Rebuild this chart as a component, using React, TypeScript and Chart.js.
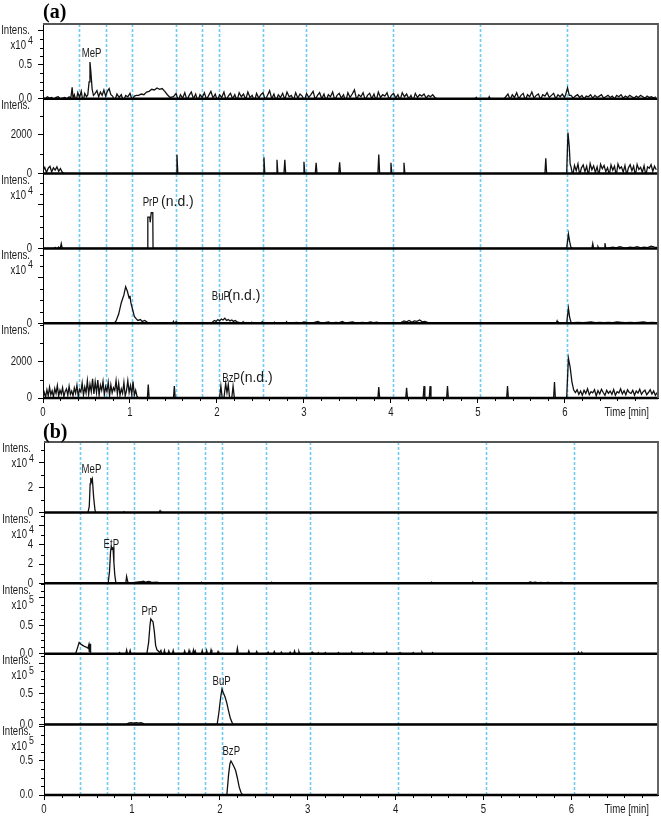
import React, { useEffect, useRef } from "react";
import { Chart, registerables } from "chart.js";

Chart.register(...registerables);

type Pt = [number, number];

const FONT = "'Liberation Sans', Arial, sans-serif";
const NARROW = 0.8;
const TEXT = "#1a1a1a";
const MARKER = "#6ccaf3";

// ---------- helpers (sampling / spike expansion) ----------
const seg = (start: number, step: number, values: number[]): Pt[] =>
  values.map((v, i) => [Math.round((start + i * step) * 1000) / 1000, v] as Pt);
const spikes = (list: Pt[]): Pt[] =>
  list.flatMap(([t, h]) => [[t - 0.01, 0], [t, h], [t + 0.01, 0]] as Pt[]);
const trace = (...parts: Pt[][]): Pt[] => parts.flat().sort((p, q) => p[0] - q[0]);

// ---------- shared axis data ----------
const timeMarkers = [0.415, 0.72, 1.02, 1.53, 1.83, 2.02, 2.53, 3.025, 4.025, 5.025, 6.025];
const timeTicks = [0, 1, 2, 3, 4, 5, 6];

// ---------- (a) panel 1 : MeP (x10^4) ----------
const a1Noise1 = seg(0, 0.025, [0.02, 0.0, 0.03, 0.01, 0.02, -0.01, 0.02, 0.03, 0.0, 0.01, 0.02, 0.0, 0.03]);
const a1Points: Pt[] = [
  [0.32, 0.01], [0.335, 0.17], [0.345, 0.01],
  [0.5, 0.03], [0.515, 0.06], [0.53, 0.25], [0.54, 0.54], [0.55, 0.4], [0.565, 0.14], [0.58, 0.05],
  [1.5, 0.03],
  [4.53, 0], [4.97, 0], [4.98, 0.02], [4.99, 0], [5.12, 0], [5.13, 0.03], [5.14, 0], [5.3, 0],
  [6.008, 0.06], [6.03, 0.16], [6.05, 0.05],
];
const a1Noise2 = seg(0.36, 0.02, [0.06, -0.04, 0.09, 0.02, 0.11, -0.05, 0.08]);
const a1Noise3 = seg(0.6, 0.02, [0.08, 0.12, 0.03, 0.1, 0.05, 0.13, 0.04, 0.11, 0.15, 0.06]);
const a1Noise4 = seg(0.8, 0.025, [0.04, -0.03, 0.07, 0.02, 0.06, -0.04, 0.05, 0.03, 0.08, -0.02, 0.04, 0.05]);
const a1Hump = seg(1.1, 0.03, [0.05, 0.07, 0.06, 0.1, 0.11, 0.14, 0.13, 0.16, 0.14, 0.15, 0.11, 0.06, 0.02]);
const a1Noise5 = seg(1.53, 0.025, [
  0.08, -0.03, 0.06, 0.01, 0.09, -0.02, 0.05, 0.1, 0.0, 0.07, -0.04, 0.06, 0.02, 0.09, -0.01, 0.05, 0.11, 0.01, 0.07, -0.03,
  0.06, 0.02, 0.1, -0.02, 0.04, 0.08, 0.0, 0.06, -0.03, 0.09, 0.03, 0.07, -0.01, 0.1, 0.02, 0.05, -0.04, 0.08, 0.01, 0.06,
  0.09, -0.02, 0.05, 0.12, 0.0, 0.07, -0.03, 0.06, 0.02, 0.08, -0.01, 0.1, 0.03, 0.05, -0.02, 0.09, 0.01, 0.07, 0.04, -0.03,
  0.08, 0.02, 0.06, 0.11, -0.01, 0.05, 0.09, 0.0, 0.07, -0.03, 0.06, 0.03, 0.1, -0.02, 0.05, 0.08, 0.01, 0.06, -0.04, 0.09,
  0.02, 0.07, 0.13, -0.01, 0.06, 0.03, 0.09, -0.02, 0.05, 0.08, 0.0, 0.07, -0.03, 0.1, 0.02, 0.06, 0.04, 0.09, -0.01, 0.05,
  0.08, 0.01, 0.06, -0.02, 0.09, 0.03, 0.07, 0.0, 0.05, -0.03, 0.08, 0.02, 0.06, 0.04, 0.07, 0.01, 0.05, 0.03, 0.06, 0.02,
]);
const a1Noise6 = seg(5.32, 0.025, [
  0.03, 0.07, -0.01, 0.06, 0.02, 0.09, 0.0, 0.05, 0.08, -0.02, 0.06, 0.03, 0.1, 0.01,
  0.05, 0.07, -0.01, 0.06, 0.04, 0.09, 0.02, 0.05, 0.08, 0.0, 0.06, 0.03, 0.07, 0.02,
]);
const a1Noise7 = seg(6.07, 0.025, [
  0.05, 0.01, 0.04, 0.06, 0.02, 0.05, 0.0, 0.04, 0.03, 0.06, 0.01, 0.05, 0.02, 0.04, 0.06, 0.01, 0.03, 0.05, 0.02, 0.04,
  0.0, 0.05, 0.03, 0.06, 0.01, 0.04, 0.02, 0.05, 0.03, 0.01, 0.04, 0.02, 0.05, 0.03, 0.01, 0.04, 0.02, 0.03, 0.01, 0.03,
]);
const a1Labels = [{ text: "MeP", t: 0.558, v: 0.67, align: "center", size: 12 }];

// ---------- (a) panel 2 ----------
const a2Noise1 = seg(0, 0.02, [150, 320, 60, 280, 380, 90, 300, 180, 350, 120, 260, 80]);
const a2Points: Pt[] = [[0.24, 0], [6.02, 0], [6.035, 2130], [6.05, 1400], [6.06, 500]];
const a2Spikes: Pt[] = [
  [1.54, 980], [2.54, 850], [2.69, 720], [2.78, 720], [3.0, 610], [3.14, 560],
  [3.41, 580], [3.86, 990], [4.0, 560], [4.15, 560], [5.78, 790],
];
const a2Noise2 = seg(6.07, 0.02, [
  350, -100, 420, 150, 500, -80, 300, 450, 100, 380, -120, 520, 200, 400, 60, 350, -90, 480, 250, 420,
  100, 300, -60, 450, 180, 380, -100, 500, 260, 350, 80, 420, -70, 300, 460, 150, 390, -110, 480, 220,
  330, 60, 410, -90, 350, 280, 470, 120, 380, 200,
]);

// ---------- (a) panel 3 : PrP n.d. (x10^4) ----------
const a3Points: Pt[] = [
  [0, 0], [0.13, 0], [0.14, 0.02], [0.15, 0], [0.17, 0], [0.18, 0.03], [0.19, 0], [0.2, 0.02], [0.21, 0.11], [0.22, 0.01], [0.23, 0],
  [1.203, 0], [1.205, 0.72], [1.228, 0.72], [1.232, 0.6], [1.24, 0.6], [1.244, 0.82], [1.262, 0.82], [1.265, 0],
  [6.02, 0], [6.04, 0.33], [6.055, 0.15], [6.07, 0.02], [6.09, 0],
];
const a3Spikes: Pt[] = [[6.32, 0.11], [6.38, 0.04], [6.46, 0.12]];
const a3Noise = seg(6.55, 0.04, [0.03, 0.01, 0.04, 0.02, 0.01, 0.03, 0.02, 0.04, 0.01, 0.03, 0.02, 0.05, 0.03, 0.02]);
const a3Labels = [
  { text: "PrP", t: 1.146, v: 1.05, align: "left", size: 12 },
  { text: "(n.d.)", t: 1.357, v: 1.07, align: "left", size: 14 },
];

// ---------- (a) panel 4 : BuP n.d. (x10^4) ----------
const a4Points: Pt[] = [
  [0, 0], [0.82, 0], [0.84, 0.05], [0.87, 0.2], [0.9, 0.45], [0.93, 0.62], [0.95, 0.8], [0.97, 0.7], [0.99, 0.55],
  [1.0, 0.6], [1.01, 0.45], [1.03, 0.3], [1.05, 0.15], [1.07, 0.1], [1.09, 0.06], [1.12, 0.08], [1.14, 0.04],
  [1.17, 0.06], [1.2, 0.02], [1.22, 0], [1.94, 0], [3.87, 0], [4.1, 0], [4.45, 0],
  [6.02, 0], [6.04, 0.33], [6.055, 0.12], [6.07, 0.02],
];
const a4Spikes: Pt[] = [
  [1.5, 0.04], [1.53, 0.03], [2.3, 0.03], [2.4, 0.02], [2.52, 0.03], [2.66, 0.02], [2.8, 0.03], [5.91, 0.05],
];
const a4Hump = seg(1.95, 0.02, [0.03, 0.06, 0.04, 0.08, 0.05, 0.09, 0.07, 0.11, 0.06, 0.08, 0.05, 0.07, 0.04, 0.06, 0.03, 0.02]);
const a4Noise1 = seg(2.92, 0.04, [
  0.02, 0.0, 0.03, 0.01, 0.0, 0.02, 0.04, 0.0, 0.01, 0.03, 0.0, 0.02,
  0.01, 0.04, 0.0, 0.02, 0.03, 0.0, 0.01, 0.02, 0.0, 0.03, 0.01, 0.02,
]);
const a4Noise2 = seg(4.12, 0.03, [0.02, 0.05, 0.03, 0.06, 0.02, 0.05, 0.04, 0.07, 0.03, 0.04, 0.02]);
const a4Noise3 = seg(6.1, 0.05, [0.01, 0.02, 0.01, 0.02, 0.03, 0.01, 0.02, 0.01, 0.02, 0.01, 0.03, 0.02, 0.01, 0.02, 0.01, 0.02, 0.03, 0.01, 0.02, 0.01]);
const a4Labels = [
  { text: "BuP", t: 1.94, v: 0.58, align: "left", size: 12 },
  { text: "(n.d.)", t: 2.124, v: 0.59, align: "left", size: 14 },
];

// ---------- (a) panel 5 : BzP n.d. ----------
const a5Noise1 = seg(0, 0.015, [
  0, 300, 60, 450, 120, 600, 180, 400, 50, 520, 250, 680, 100, 430, 220, 560, 80, 360, 500, 150,
  640, 200, 380, 120, 550, 260, 700, 90, 480, 330, 820, 150, 600, 280, 950, 200, 750, 350, 1050, 220,
  880, 300, 980, 150, 700, 420, 900, 180, 620, 350, 850, 120, 720, 280, 560, 400, 950, 220, 800, 150,
  500, 260, 850, 120, 400, 950, 300, 680, 200, 900, 150, 420, 100, 0,
]);
const a5Points: Pt[] = [
  [2.03, 0], [2.045, 650], [2.06, 0], [2.08, 0], [2.1, 800], [2.115, 300], [2.13, 750], [2.145, 0],
  [2.17, 0], [2.185, 650], [2.2, 0],
  [6.02, 0], [6.04, 2180], [6.06, 1700], [6.08, 900], [6.1, 450],
];
const a5Spikes: Pt[] = [
  [1.21, 740], [1.51, 650], [3.86, 600], [4.18, 560], [4.38, 650], [4.45, 650], [4.65, 650], [5.34, 650], [5.88, 870],
];
const a5Noise2 = seg(6.12, 0.02, [
  300, 450, 200, 380, 150, 420, 250, 500, 180, 350, 280, 450, 120, 400, 220, 480, 300, 150, 420, 260,
  380, 200, 460, 150, 350, 280, 500, 220, 400, 180, 450, 300, 250, 420, 150, 380, 270, 480, 200, 350,
  430, 180, 300, 460, 220, 380, 150, 300,
]);
const a5Labels = [
  { text: "BzP", t: 2.062, v: 1050, align: "left", size: 12 },
  { text: "(n.d.)", t: 2.265, v: 1070, align: "left", size: 14 },
];

// ---------- (b) panel 1 : MeP (x10^4) ----------
const b1Points: Pt[] = [
  [0, 0], [0.5, 0], [0.515, 0.5], [0.525, 2.3], [0.532, 2.78], [0.54, 2.5], [0.55, 2.7], [0.565, 1.2], [0.58, 0.2], [0.59, 0], [6.98, 0],
];
const b1Spikes: Pt[] = [[0.91, 0.05], [1.32, 0.15]];
const b1Labels = [{ text: "MeP", t: 0.54, v: 3.43, align: "center", size: 12 }];

// ---------- (b) panel 2 : EtP (x10^4) ----------
const b2Points: Pt[] = [
  [0, 0], [0.73, 0], [0.745, 1.2], [0.757, 3.3], [0.766, 3.82], [0.775, 3.6], [0.785, 3.7], [0.795, 2.2], [0.805, 0.9], [0.818, 0],
  [0.93, 0], [0.94, 0.7], [0.95, 0.25], [0.96, 0], [1.43, 0], [5.5, 0], [6.0, 0], [6.98, 0],
];
const b2Noise1 = seg(1.1, 0.03, [0.15, 0.2, 0.1, 0.18, 0.12, 0.08, 0.1, 0.05, 0.06, 0.03, 0.04]);
const b2Noise2 = seg(5.53, 0.03, [0.12, 0.05, 0.1, 0.04, 0.08, 0.03, 0.06, 0.09, 0.04, 0.07, 0.03, 0.05, 0.08, 0.02, 0.04, 0.03]);
const b2Spikes: Pt[] = [[1.79, 0.1], [2.59, 0.1], [4.41, 0.1], [4.88, 0.1]];
const b2Labels = [{ text: "EtP", t: 0.766, v: 3.98, align: "center", size: 12 }];

// ---------- (b) panel 3 : PrP (x10^5) ----------
const b3Points: Pt[] = [
  [0, 0], [0.36, 0], [0.38, 0.1], [0.4, 0.2], [0.42, 0.17], [0.44, 0.15], [0.46, 0.13], [0.48, 0.12], [0.5, 0.1],
  [0.51, 0.16], [0.515, 0.03], [0.525, 0.18], [0.53, 0.01], [0.54, 0],
  [1.17, 0], [1.19, 0.2], [1.205, 0.5], [1.215, 0.62], [1.225, 0.6], [1.24, 0.57], [1.255, 0.4], [1.27, 0.15],
  [1.285, 0.07], [1.3, 0.05], [1.315, 0.02], [1.33, 0.06], [1.34, 0], [6.98, 0],
];
const b3Spikes: Pt[] = [
  [0.86, 0.02], [0.94, 0.07], [0.98, 0.06], [1.37, 0.06], [1.42, 0.05], [1.47, 0.06], [1.6, 0.05], [1.65, 0.06],
  [1.7, 0.07], [1.72, 0.05], [1.8, 0.06], [1.85, 0.06], [1.9, 0.07], [1.98, 0.04], [2.2, 0.1], [2.33, 0.05],
  [2.42, 0.04], [2.55, 0.03], [2.62, 0.04], [2.7, 0.03], [2.8, 0.03], [2.85, 0.05], [2.9, 0.04], [3.05, 0.03],
  [3.12, 0.02], [3.2, 0.02], [3.35, 0.02], [3.5, 0.03], [3.62, 0.02], [3.75, 0.02], [3.9, 0.03], [4.05, 0.02],
  [4.2, 0.02], [4.3, 0.03], [4.42, 0.02], [6.08, 0.03], [6.12, 0.02],
];
const b3Labels = [{ text: "PrP", t: 1.2, v: 0.75, align: "center", size: 12 }];

// ---------- (b) panel 4 : BuP (x10^5) ----------
const b4Points: Pt[] = [
  [0, 0], [0.94, 0], [0.96, 0.02], [0.99, 0.03], [1.02, 0.02], [1.05, 0.03], [1.08, 0.02], [1.1, 0.03], [1.12, 0.02], [1.14, 0],
  [1.97, 0], [1.99, 0.2], [2.01, 0.45], [2.025, 0.58], [2.04, 0.52], [2.06, 0.45], [2.08, 0.35], [2.1, 0.22],
  [2.12, 0.1], [2.14, 0.03], [2.155, 0], [6.98, 0],
];
const b4Labels = [{ text: "BuP", t: 2.02, v: 0.71, align: "center", size: 12 }];

// ---------- (b) panel 5 : BzP (x10^5) ----------
const b5Points: Pt[] = [
  [0, 0], [2.08, 0], [2.1, 0.3], [2.115, 0.46], [2.127, 0.5], [2.14, 0.47], [2.16, 0.42], [2.18, 0.36],
  [2.2, 0.25], [2.22, 0.12], [2.24, 0.04], [2.26, 0], [6.98, 0],
];
const b5Labels = [{ text: "BzP", t: 2.13, v: 0.64, align: "center", size: 12 }];

interface PeakLabel { text: string; t: number; v: number; align: string; size: number }
interface Panel {
  id: string; trace: Pt[]; max: number; major: number[]; tickText: Record<string, string>;
  minor: number; exp: string; peaks: PeakLabel[];
}

const panelsA: Panel[] = [
  { id: "a1", trace: trace(a1Noise1, a1Points, a1Noise2, a1Noise3, a1Noise4, a1Hump, a1Noise5, a1Noise6, a1Noise7), max: 1.1, major: [0, 0.5, 1], tickText: { "0": "0.0", "0.5": "0.5" }, minor: 0.125, exp: "4", peaks: a1Labels },
  { id: "a2", trace: trace(a2Noise1, a2Points, spikes(a2Spikes), a2Noise2), max: 3875, major: [0, 2000], tickText: { "0": "0", "2000": "2000" }, minor: 1000, exp: "", peaks: [] },
  { id: "a3", trace: trace(a3Points, spikes(a3Spikes), a3Noise), max: 1.72, major: [0, 1], tickText: { "0": "0" }, minor: 0.25, exp: "4", peaks: a3Labels },
  { id: "a4", trace: trace(a4Points, spikes(a4Spikes), a4Hump, a4Noise1, a4Noise2, a4Noise3), max: 1.64, major: [0, 1], tickText: { "0": "0" }, minor: 0.25, exp: "4", peaks: a4Labels },
  { id: "a5", trace: trace(a5Noise1, a5Points, spikes(a5Spikes), a5Noise2), max: 4100, major: [0, 2000], tickText: { "0": "0", "2000": "2000" }, minor: 1000, exp: "", peaks: a5Labels },
];

const panelsB: Panel[] = [
  { id: "b1", trace: trace(b1Points, spikes(b1Spikes)), max: 5.67, major: [0, 2, 4], tickText: { "0": "0", "2": "2" }, minor: 1, exp: "4", peaks: b1Labels },
  { id: "b2", trace: trace(b2Points, b2Noise1, b2Noise2, spikes(b2Spikes)), max: 7.39, major: [0, 2, 4, 6], tickText: { "0": "0", "2": "2", "4": "4" }, minor: 1, exp: "4", peaks: b2Labels },
  { id: "b3", trace: trace(b3Points, spikes(b3Spikes)), max: 1.256, major: [0, 0.5, 1], tickText: { "0": "0.0", "0.5": "0.5" }, minor: 0.125, exp: "5", peaks: b3Labels },
  { id: "b4", trace: trace(b4Points), max: 1.161, major: [0, 0.5, 1], tickText: { "0": "0.0", "0.5": "0.5" }, minor: 0.125, exp: "5", peaks: b4Labels },
  { id: "b5", trace: trace(b5Points), max: 1.038, major: [0, 0.5, 1], tickText: { "0": "0.0", "0.5": "0.5" }, minor: 0.125, exp: "5", peaks: b5Labels },
];

function drawText(ctx: CanvasRenderingContext2D, text: string, x: number, y: number, align: string, size: number, sx: number) {
  ctx.save();
  ctx.font = `${size}px ${FONT}`;
  ctx.textAlign = align as CanvasTextAlign;
  ctx.textBaseline = "middle";
  ctx.fillStyle = TEXT;
  ctx.translate(x, y);
  ctx.scale(sx, 1);
  ctx.fillText(text, 0, 0);
  ctx.restore();
}

function decoPlugin(panels: Panel[], xMax: number) {
  return {
    id: "deco",
    beforeDatasetsDraw(chart: any) {
      const { ctx, chartArea: a } = chart;
      const xs = chart.scales.x;
      ctx.save();
      ctx.strokeStyle = MARKER;
      ctx.lineWidth = 1.6;
      ctx.setLineDash([3, 2]);
      timeMarkers.forEach((t) => {
        const px = Math.round(xs.getPixelForValue(t)) + 0.5;
        ctx.beginPath();
        ctx.moveTo(px, a.top);
        ctx.lineTo(px, a.bottom);
        ctx.stroke();
      });
      ctx.restore();
    },
    afterDatasetsDraw(chart: any) {
      const { ctx, chartArea: a } = chart;
      const xs = chart.scales.x;
      ctx.save();
      ctx.strokeStyle = "#000";
      ctx.lineWidth = 2.5;
      panels.forEach((p) => {
        const y = chart.scales[p.id].getPixelForValue(0);
        ctx.beginPath();
        ctx.moveTo(a.left, y);
        ctx.lineTo(a.right, y);
        ctx.stroke();
      });
      ctx.strokeStyle = "#555";
      ctx.lineWidth = 1.8;
      ctx.beginPath();
      ctx.moveTo(a.left, a.top);
      ctx.lineTo(a.right, a.top);
      ctx.lineTo(a.right, a.bottom);
      ctx.stroke();
      ctx.strokeStyle = "#000";
      ctx.lineWidth = 1;
      panels.forEach((p) => {
        const s = chart.scales[p.id];
        for (let v = p.minor; v < p.max - 1e-9; v += p.minor) {
          if (p.major.some((m) => Math.abs(m - v) < 1e-6)) continue;
          const y = Math.round(s.getPixelForValue(v)) + 0.5;
          ctx.beginPath();
          ctx.moveTo(a.left - 3, y);
          ctx.lineTo(a.left, y);
          ctx.stroke();
        }
      });
      for (let i = 1; i * 0.2 < xMax; i++) {
        if (i % 5 === 0) continue;
        const x = Math.round(xs.getPixelForValue(i * 0.2)) + 0.5;
        ctx.beginPath();
        ctx.moveTo(x, a.bottom);
        ctx.lineTo(x, a.bottom + 3);
        ctx.stroke();
      }
      timeTicks.forEach((t) => drawText(ctx, String(t), xs.getPixelForValue(t), a.bottom + 15, "center", 12, NARROW));
      drawText(ctx, "Time [min]", a.right - 9, a.bottom + 15, "right", 12, NARROW);
      panels.forEach((p) => {
        const s = chart.scales[p.id];
        p.major.forEach((m) => {
          const txt = p.tickText[String(m)];
          if (txt) drawText(ctx, txt, a.left - 11, s.getPixelForValue(m), "right", 12, NARROW);
        });
        drawText(ctx, "Intens.", a.left - 13, s.top + 7, "right", 12, NARROW);
        if (p.exp) {
          drawText(ctx, "x10", a.left - 17, s.top + 22, "right", 12, NARROW);
          drawText(ctx, p.exp, a.left - 15, s.top + 17, "left", 11, NARROW);
        }
        p.peaks.forEach((l) => {
          drawText(ctx, l.text, xs.getPixelForValue(l.t), s.getPixelForValue(l.v), l.align, l.size, l.size > 12 ? 1 : NARROW);
        });
      });
      ctx.restore();
    },
  };
}

function buildConfig(panels: Panel[], xMax: number, padTop: number, yWidth: number): any {
  const scales: any = {
    x: {
      type: "linear", position: "bottom", min: 0, max: xMax,
      afterFit: (s: any) => { s.height = 22; },
      afterBuildTicks: (s: any) => { s.ticks = timeTicks.map((v) => ({ value: v })); },
      ticks: { display: false, autoSkip: false },
      grid: { drawOnChartArea: false, drawTicks: true, tickLength: 5, color: "#000", lineWidth: 1 },
      border: { display: true, color: "#000", width: 1 },
    },
  };
  panels.forEach((p, i) => {
    scales[p.id] = {
      type: "linear", position: "left", stack: "panels", stackWeight: 1, weight: 20 - i,
      min: 0, max: p.max,
      afterFit: (s: any) => { s.width = yWidth; },
      afterBuildTicks: (s: any) => { s.ticks = p.major.map((v) => ({ value: v })); },
      ticks: { display: false, autoSkip: false },
      grid: { drawOnChartArea: false, drawTicks: true, tickLength: 5, color: "#000" },
      border: { display: true, color: "#000", width: 1 },
    };
  });
  const datasets = panels.map((p) => ({
    data: p.trace.map(([x, y]) => ({ x, y })),
    xAxisID: "x", yAxisID: p.id,
    borderColor: "#111", borderWidth: 1.3, pointRadius: 0, tension: 0, fill: false,
  }));
  return {
    type: "line",
    data: { datasets },
    options: {
      responsive: false, animation: false, events: [],
      layout: { padding: { top: padTop, right: 3, left: 0, bottom: 0 } },
      plugins: { legend: { display: false }, tooltip: { enabled: false } },
      scales,
    },
    plugins: [decoPlugin(panels, xMax)],
  };
}

function Chromatogram(props: { panels: Panel[]; xMax: number; top: number; height: number; padTop: number; yWidth: number }) {
  const ref = useRef<HTMLCanvasElement>(null);
  useEffect(() => {
    if (!ref.current) return;
    const chart = new Chart(ref.current, buildConfig(props.panels, props.xMax, props.padTop, props.yWidth));
    return () => chart.destroy();
  }, []);
  return (
    <canvas
      ref={ref}
      width={661}
      height={props.height}
      style={{ position: "absolute", left: 0, top: props.top, width: 661, height: props.height, display: "block" }}
    />
  );
}

const tagStyle: React.CSSProperties = {
  position: "absolute", left: 43, font: "bold 20px 'Liberation Serif', 'Times New Roman', serif", lineHeight: "22px", color: "#000",
};

export default function App() {
  return (
    <div style={{ position: "absolute", left: 0, top: 0, width: 661, height: 817, background: "#fff" }}>
      <Chromatogram panels={panelsA} xMax={7.07} top={0} height={420} padTop={24} yWidth={43} />
      <Chromatogram panels={panelsB} xMax={6.985} top={420} height={397} padTop={22} yWidth={44} />
      <div style={{ ...tagStyle, top: 0 }}>(a)</div>
      <div style={{ ...tagStyle, top: 420 }}>(b)</div>
    </div>
  );
}
